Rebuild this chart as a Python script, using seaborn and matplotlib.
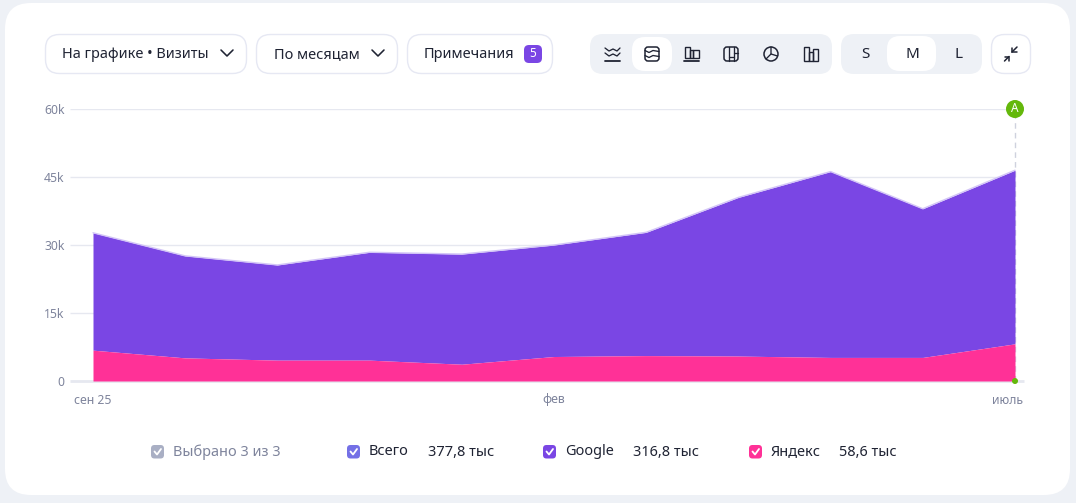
import numpy as np
import pandas as pd
import matplotlib
matplotlib.use("Agg")
import matplotlib.pyplot as plt
from matplotlib.patches import FancyBboxPatch, Circle, Rectangle
from matplotlib.transforms import ScaledTranslation
import seaborn as sns

months = ["сен 25", "окт", "ноя", "дек", "янв", "фев", "мар", "апр", "май", "июнь", "июль"]
yandex = [6800, 5100, 4600, 4600, 3700, 5400, 5600, 5500, 5200, 5200, 8200]
google = [25900, 22500, 21000, 23800, 24300, 24600, 27200, 35000, 41000, 32800, 38300]
y_ticks = [0, 15000, 30000, 45000, 60000]
y_labels = ["0", "15k", "30k", "45k", "60k"]
x_tick_months = ["сен 25", "фев", "июль"]
legend_names = ["Всего", "Google", "Яндекс"]
legend_values = ["377,8 тыс", "316,8 тыс", "58,6 тыс"]

PURPLE = "#7a46e4"
PINK = "#ff3197"
BG = "#eef1f6"
DARK = "#1f2333"
GREY = "#7e849c"
GRID = "#e6e8f0"
W, H = 1076, 503

sns.set_theme(style="white")
plt.rcParams["font.family"] = ["Noto Sans", "DejaVu Sans"]

fig = plt.figure(figsize=(W / 100, H / 100), dpi=100, facecolor=BG)

ui = fig.add_axes([0, 0, 1, 1], zorder=0)
ui.set_xlim(0, W); ui.set_ylim(H, 0); ui.axis("off")

def rbox(x0, y0, x1, y1, r, fc, ec="none", lw=1, ax=ui):
    ax.add_patch(FancyBboxPatch((x0 + r, y0 + r), x1 - x0 - 2 * r, y1 - y0 - 2 * r,
                                boxstyle=f"round,pad={r},rounding_size={r}",
                                fc=fc, ec=ec, lw=lw))

def chevron(cx, cy, color=DARK):
    ui.plot([cx - 6, cx, cx + 6], [cy - 3, cy + 3, cy - 3], color=color, lw=1.15,
            solid_capstyle="round", solid_joinstyle="round")

rbox(5, 3, 1070, 495, 26, "white")

PX = 10.45
for x0, x1 in [(45, 247), (256, 398), (407, 553)]:
    rbox(x0 + .5, 34.5, x1 - .5, 73.5, 14, "white", "#e6e8f3")
ui.text(62.5, 54.5, "На графике • Визиты", fontsize=PX, color=DARK, va="center")
chevron(227, 53)
ui.text(274, 54.5, "По месяцам", fontsize=PX, color=DARK, va="center")
chevron(378, 53)
ui.text(424, 54.5, "Примечания", fontsize=PX, color=DARK, va="center")
rbox(524, 45, 542, 63, 5, PURPLE)
ui.text(533, 53.7, "5", fontsize=8.5, color="white", va="center", ha="center", fontweight="bold")

rbox(590, 34, 832, 74, 13, BG)
rbox(632, 37, 672, 71, 13, "white")
rbox(841, 34, 982, 74, 13, BG)
rbox(887, 36, 936, 71, 13, "white")
for label, x in [("S", 865.5), ("M", 912), ("L", 958)]:
    ui.text(x, 54, label, fontsize=11, color=DARK, ha="center", va="center")
rbox(991.5, 34.5, 1030.5, 73.5, 13, "white", "#e6e8f3")

ic = dict(color=DARK, lw=.95, solid_capstyle="round", solid_joinstyle="round")
# line icon
ui.plot([605, 609, 613, 617, 620], [48, 51, 49, 51, 48], **ic)
ui.plot([605, 609, 613, 617, 620], [53, 56, 54, 56, 53], **ic)
ui.plot([605, 620], [60.5, 60.5], lw=1.3, color=DARK)
# stacked area icon
rbox(645, 47, 659, 61, 3, "none", DARK, 1.1)
ui.plot([645, 649, 653, 659], [50.5, 52.5, 50.5, 51.5], **ic)
ui.plot([645, 649, 653, 659], [55.5, 57.5, 55.5, 56.5], **ic)
# bars icon
ui.add_patch(Rectangle((685, 47), 5, 11, fc="none", ec=DARK, lw=1))
ui.add_patch(Rectangle((690, 50), 3, 8, fc="none", ec=DARK, lw=1))
ui.add_patch(Rectangle((693, 50), 6, 8, fc="none", ec=DARK, lw=1))
ui.plot([684, 699], [60.5, 60.5], lw=1.3, color=DARK)
# treemap icon
rbox(724, 47, 738, 61, 3, "none", DARK, 1.1)
ui.plot([729, 729], [47, 61], **ic); ui.plot([733.5, 733.5], [47, 61], **ic)
ui.plot([729, 733.5], [57, 57], **ic)
ui.plot([733.5, 738], [53, 53], **ic)
# pie icon
ui.add_patch(Circle((771, 54), 7, fc="none", ec=DARK, lw=1.1))
ui.plot([771, 771, 777.5], [47, 54, 56], **ic)
ui.plot([771, 766], [54, 59], **ic)
# columns icon
ui.add_patch(Rectangle((804, 47), 5, 14, fc="none", ec=DARK, lw=1))
ui.add_patch(Rectangle((809, 52), 3.5, 9, fc="none", ec=DARK, lw=1))
ui.add_patch(Rectangle((812.5, 49), 5.5, 12, fc="none", ec=DARK, lw=1))
# collapse icon
ck = dict(color=DARK, lw=1.1, solid_capstyle="round", solid_joinstyle="miter")
ui.plot([1004.5, 1009], [61, 56.5], **ck)
ui.plot([1004.5, 1009, 1009], [56.5, 56.5, 61], **ck)
ui.plot([1012, 1017], [52, 47], **ck)
ui.plot([1012, 1012, 1016.5], [47.5, 52, 52], **ck)

# chart
L, R, T, B = 70, 1024, 109, 381
ax = fig.add_axes([L / W, 1 - B / H, (R - L) / W, (B - T) / H], zorder=1)
ax.patch.set_alpha(0)
step = (1015 - 93) / 10
xlim = (-(93 - L) / step, 10 + (R - 1015) / step)
ax.set_xlim(*xlim); ax.set_ylim(0, 60000)
sns.despine(ax=ax, left=True, bottom=True)

df = pd.DataFrame({"month": months, "x": np.arange(len(months)), "Яндекс": yandex, "Google": google})
df["Всего"] = df["Яндекс"] + df["Google"]

ax.vlines(10, 0, 60000, color="#cfd2de", lw=1, ls=(0, (4, 3)), zorder=1.5)
ax.hlines(y_ticks[1:], xlim[0], 10, color=GRID, lw=1, zorder=1)
ax.hlines(0, xlim[0], xlim[1], color=GRID, lw=2, zorder=1, clip_on=False)
ax.fill_between(df["x"], df["Яндекс"], df["Всего"], color=PURPLE, lw=0, zorder=2)
ax.fill_between(df["x"], 0, df["Яндекс"], color=PINK, lw=0, zorder=3)
sns.lineplot(data=df, x="x", y="Всего", color="#d3c5f7", lw=1, ax=ax, zorder=4, legend=False, errorbar=None)

ax.set_xlabel(""); ax.set_ylabel("")
ax.set_yticks(y_ticks, y_labels)
ax.set_xticks([months.index(m) for m in x_tick_months], x_tick_months)
ax.tick_params(axis="both", length=0, labelsize=8.8, labelcolor=GREY)
ax.tick_params(axis="x", pad=9)
ax.tick_params(axis="y", pad=4)
for lab in ax.get_xticklabels():
    if lab.get_text() == "июль":
        lab.set_transform(lab.get_transform() + ScaledTranslation(-8 / 100, 0, fig.dpi_scale_trans))

top = fig.add_axes([0, 0, 1, 1], zorder=2)
top.set_xlim(0, W); top.set_ylim(H, 0); top.axis("off"); top.patch.set_alpha(0)
top.add_patch(Circle((1015, 109), 9, fc="#64b80b", ec="none"))
top.text(1015, 108.6, "A", color="white", fontsize=8.5, fontweight="bold", ha="center", va="center")
top.add_patch(Circle((1015, 381), 3, fc="#64b80b", ec="none"))

def check(x, color):
    rbox(x - 6.5, 445, x + 6.5, 458.5, 3.5, color, ax=top)
    top.plot([x - 3, x - .5, x + 3.5], [451.5, 454.5, 449], color="white", lw=1.3,
             solid_capstyle="round", solid_joinstyle="round")

LEG = 10.45
check(157.5, "#a9afc4")
top.text(173, 452.3, "Выбрано 3 из 3", fontsize=LEG, color=GREY, va="center")
for name, val, cx, tx, vx, col in zip(legend_names, legend_values,
                                      [353.5, 549.5, 755.5], [369, 565, 771], [428, 633, 839],
                                      ["#7470e6", PURPLE, PINK]):
    check(cx, col)
    top.text(tx, 451.3, name, fontsize=LEG, color=DARK, va="center")
    top.text(vx, 452.3, val, fontsize=LEG, color=DARK, va="center")

fig.savefig("out.png", dpi=100, facecolor=BG)
